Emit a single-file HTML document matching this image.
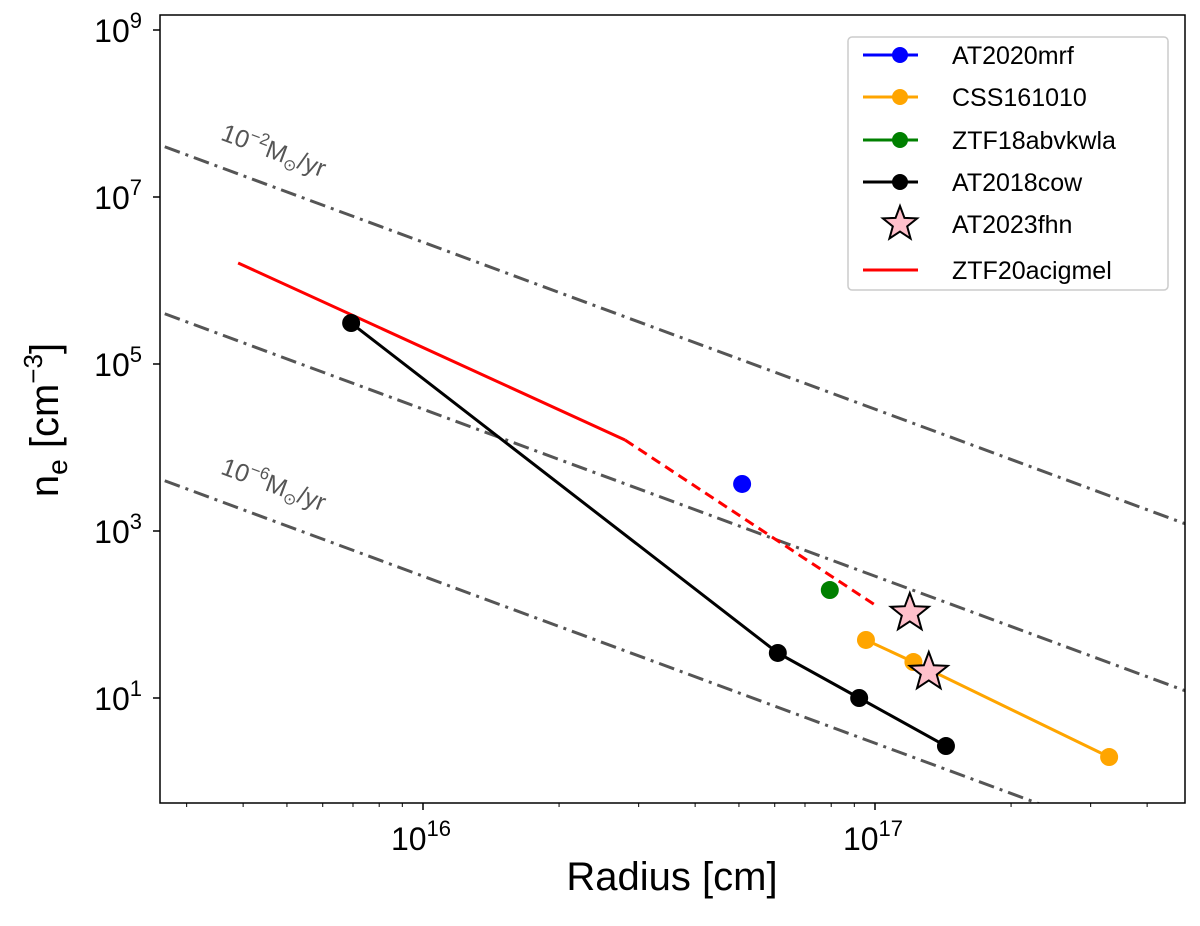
<!DOCTYPE html>
<html><head><meta charset="utf-8"><style>
body{margin:0;background:#fff;font-family:"Liberation Sans","DejaVu Sans",sans-serif}
</style></head><body>
<svg id="c" width="1200" height="921" viewBox="0 0 1200 921" xmlns="http://www.w3.org/2000/svg" font-family="Liberation Sans, DejaVu Sans, sans-serif">
<defs><clipPath id="pc"><rect x="160" y="15" width="1025" height="788"/></clipPath></defs>
<g id="plot" clip-path="url(#pc)"></g>
<rect x="160" y="15" width="1025" height="788" fill="none" stroke="#000" stroke-width="1.5"/>
<g id="ticks"></g>
<text x="672" y="890" font-size="40" text-anchor="middle">Radius [cm]</text>
<text transform="translate(58,420) rotate(-90)" font-size="40" text-anchor="middle">n<tspan font-size="28" dy="9">e</tspan><tspan dy="-9"> [cm</tspan><tspan font-size="26" dy="-16">−3</tspan><tspan dy="16">]</tspan></text>
<g id="legend"></g>
</svg>
<script>
const mdotLogA=[38.459,36.459,34.459];
const mrfX=[16.706],mrfY=[3.563];
const cssX=[16.98,17.085,17.518],cssY=[1.695,1.431,0.293];
const ztf18X=[16.9],ztf18Y=[2.293];
const cowX=[15.841,16.785,16.965,17.157],cowY=[5.491,1.539,1.0,0.425];
const fhnX=[17.077,17.119],fhnY=[2.018,1.311];
const redSolidX=[15.591,16.447],redSolidY=[6.21,4.09];
const redDashX=[16.447,17.0],redDashY=[4.09,2.114];
const yTicks=[1,3,5,7,9];
const xTicks=[16,17];
const NS="http://www.w3.org/2000/svg";
const X=l=>423+(l-16)*452, Y=l=>698-(l-1)*83.5;
function mk(t,a,p){const e=document.createElementNS(NS,t);for(const k in a)e.setAttribute(k,a[k]);(p||document.getElementById('plot')).appendChild(e);return e;}
mdotLogA.forEach((A,i)=>{const x0=15.3,x1=17.8;
 const l=mk('line',{x1:X(x0),y1:Y(A-2*x0),x2:X(x1),y2:Y(A-2*x1),stroke:'#555',"stroke-width":3,"stroke-dasharray":"16 6 3 6"});
 
 
});
[[0,'−2'],[2,'−6']].forEach(([i,e])=>{const lx=15.55, ly=mdotLogA[i]-2*lx+0.33;
 const t=mk('text',{transform:`translate(${X(lx)},${Y(ly)}) rotate(20.3)`,"font-size":25,fill:'#555'});
 t.innerHTML=`10<tspan font-size="17" dy="-10">${e}</tspan><tspan dy="10">M</tspan><tspan font-size="16" dy="5">⊙</tspan><tspan dy="-5">/yr</tspan>`;
 
 
});
function poly(xs,ys,c,dash,name){const p=mk('polyline',{points:xs.map((x,i)=>X(x)+','+Y(ys[i])).join(' '),fill:'none',stroke:c,"stroke-width":3,"stroke-dasharray":dash||''});
 
 }
function pts(xs,ys,c,name){xs.forEach((x,i)=>{const d=mk('circle',{cx:X(x),cy:Y(ys[i]),r:9,fill:c});
 
 });}
function star(cx,cy,R,p){const r=R*0.42;let s='';for(let k=0;k<10;k++){const a=-Math.PI/2+k*Math.PI/5,rr=k%2?r:R;s+=(cx+rr*Math.cos(a))+','+(cy+rr*Math.sin(a))+' ';}
 return mk('polygon',{points:s,fill:'pink',stroke:'#000',"stroke-width":2},p);}
poly(redSolidX,redSolidY,'red','','ztf20acigmel-solid');
poly(redDashX,redDashY,'red','10 6','ztf20acigmel-dashed');
poly(cowX,cowY,'#000','','at2018cow-line'); pts(cowX,cowY,'#000','at2018cow');
poly(cssX,cssY,'orange','','css161010-line'); pts(cssX,cssY,'orange','css161010');
pts(mrfX,mrfY,'blue','at2020mrf');
pts(ztf18X,ztf18Y,'green','ztf18abvkwla');
fhnX.forEach((x,i)=>{const s=star(X(x),Y(fhnY[i]),20);
 
 });
const tg=document.getElementById('ticks');
yTicks.forEach(v=>{mk('line',{x1:153,x2:160,y1:Y(v),y2:Y(v),stroke:'#000',"stroke-width":1.5},tg);
 const t=mk('text',{x:142,y:Y(v)+12,"font-size":32,"text-anchor":"end"},tg);
 t.innerHTML=`10<tspan font-size="22" dy="-14">${v}</tspan>`;
 
 });
for(let d=15;d<=17;d++)for(let m=1;m<10;m++){const x=X(d+Math.log10(m));if(x<160||x>1185)continue;
 mk('line',{x1:x,x2:x,y1:803,y2:m==1?810:807,stroke:'#000',"stroke-width":m==1?1.5:1},tg);}
xTicks.forEach(v=>{const t=mk('text',{x:X(v)-2,y:850,"font-size":32,"text-anchor":"middle"},tg);
 t.innerHTML=`10<tspan font-size="22" dy="-14">${v}</tspan>`;
 
 });
const lg=document.getElementById('legend');
mk('rect',{x:848,y:37,width:320,height:253,rx:4,fill:'#fff',stroke:'#ccc',"stroke-width":1.5},lg);
const names=['AT2020mrf','CSS161010','ZTF18abvkwla','AT2018cow','AT2023fhn','ZTF20acigmel'];
const cols=['blue','orange','green','#000',null,'red'];
const ly=[55,97,140,182,224,270];
names.forEach((n,i)=>{const y=ly[i];
 if(i==4){star(900,y,18,lg);}
 else{mk('line',{x1:863,x2:918,y1:y,y2:y,stroke:cols[i],"stroke-width":3},lg);
  if(i<4)mk('circle',{cx:900,cy:y,r:8,fill:cols[i]},lg);}
 const t=mk('text',{x:952,y:y+9,"font-size":25},lg);t.textContent=n;
 
 });
</script>
</body></html>
